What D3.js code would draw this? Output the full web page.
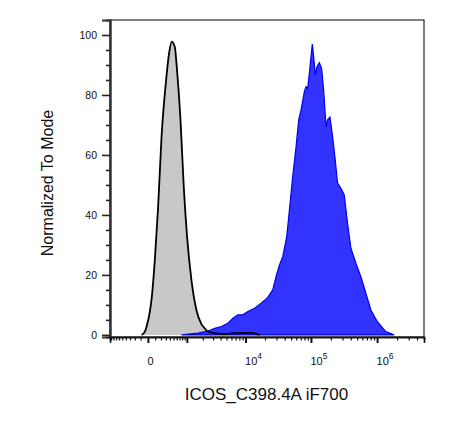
<!DOCTYPE html>
<html>
<head>
<meta charset="utf-8">
<script src="https://cdn.jsdelivr.net/npm/d3@7"></script>
<style>
  body { margin: 0; background: #fff; }
  text { font-family: "Liberation Sans", Arial, sans-serif; fill: #111; }
</style>
</head>
<body>
<div class="chart"></div>
<script>
// control (grey) histogram: intensity, normalized count
var greyX = [-85, -38, -16, 25, 48, 95, 149, 211, 301, 380, 451, 538, 612, 732, 862, 1009, 1232, 1530, 1886, 2158, 2460, 3192, 4657, 6730, 12270, 16470];
var greyY = [0, 1.1, 2.8, 7.8, 12, 25, 42.8, 66, 84, 94, 97.8, 96, 88, 71.7, 49.4, 32.8, 18.3, 8.3, 3.6, 2.2, 1.1, 0.6, 0.3, 0.6, 0.7, 0];

// stained (blue) histogram
var blueX = [770, 1638, 2460, 3192, 4118, 5262, 6325, 7588, 9087, 10867, 13794, 17500, 22080, 26310, 29960,
  33270, 37340, 42950, 47200, 52930, 59570, 65240, 70920, 79560, 84380, 89260, 94620, 100400, 105000,
  109900, 116500, 123600, 134000, 145100, 155700, 169200, 178700, 194200, 212600, 233400, 252900,
  284500, 318900, 357700, 402300, 478200, 569000, 676500, 804300, 1010000, 1351000, 1803000];
var blueY = [0, 0.6, 1.3, 2.2, 2.8, 3.9, 5.6, 6.7, 6.7, 7.8, 8.9, 10.6, 12.5, 15, 20,
  23.3, 26.1, 32.8, 41.7, 52.8, 62.8, 71.7, 75, 81.1, 82.8, 82.2, 87.2, 92.8, 97,
  92.8, 86.7, 89.4, 90.8, 88.9, 81.7, 69.4, 71.7, 72.6, 66.1, 58.3, 50.6,
  48.9, 46.7, 37.2, 28.9, 23.9, 19.4, 13.9, 8.3, 4.4, 1.1, 0];

// axis ticks
var xMajor = [0, 1e3, 1e4, 1e5, 1e6];
var xLabels = [{v: 0, base: "0", exp: ""}, {v: 1e4, base: "10", exp: "4"}, {v: 1e5, base: "10", exp: "5"}, {v: 1e6, base: "10", exp: "6"}];
var xMinor = [-900, -800, -700, -600, -500, -400, -300, -200, -100,
  100, 200, 300, 400, 500, 600, 700, 800, 900,
  2e3, 3e3, 4e3, 5e3, 6e3, 7e3, 8e3, 9e3,
  2e4, 3e4, 4e4, 5e4, 6e4, 7e4, 8e4, 9e4,
  2e5, 3e5, 4e5, 5e5, 6e5, 7e5, 8e5, 9e5,
  2e6, 3e6, 4e6];
var yMajor = [0, 20, 40, 60, 80, 100];
var yMinor = [5, 10, 15, 25, 30, 35, 45, 50, 55, 65, 70, 75, 85, 90, 95];

var W = 465, H = 422;
var margin = {top: 20, right: 41, bottom: 85, left: 110};
var iw = W - margin.left - margin.right,
  ih = H - margin.top - margin.bottom;

var svg = d3.select(".chart").append("svg")
  .attr("width", W)
  .attr("height", H);

var g = svg.append("g")
  .attr("transform", "translate(" + margin.left + "," + margin.top + ")");

var x = d3.scaleSymlog().constant(348)
  .domain([-950, 5.1e6])
  .range([0, iw]);

var y = d3.scaleLinear()
  .domain([-0.7, 105])
  .range([ih, 0]);

var grey = greyX.map(function(v, i) { return [v, greyY[i]]; });
var blue = blueX.map(function(v, i) { return [v, blueY[i]]; });

var area = d3.area()
  .x(function(d) { return x(d[0]); })
  .y0(y(0))
  .y1(function(d) { return y(d[1]); });

var line = d3.line()
  .x(function(d) { return x(d[0]); })
  .y(function(d) { return y(d[1]); });

// grey fill, then blue, then grey outline on top
g.append("path")
  .datum(grey)
  .attr("d", area.curve(d3.curveMonotoneX))
  .attr("fill", "#c8c8c8");

g.append("path")
  .datum(blue)
  .attr("d", area.curve(d3.curveLinear))
  .attr("fill", "#3333ff")
  .attr("stroke", "#0000ee")
  .attr("stroke-width", 1.2);

g.append("path")
  .datum(grey)
  .attr("d", line.curve(d3.curveMonotoneX))
  .attr("fill", "none")
  .attr("stroke", "#000")
  .attr("stroke-width", 1.8);

// frame
g.append("rect")
  .attr("x", 0).attr("y", 0)
  .attr("width", iw).attr("height", ih)
  .attr("fill", "none")
  .attr("stroke", "#000")
  .attr("stroke-width", 1);

// y axis
var yAxisMajor = g.append("g")
  .call(d3.axisLeft(y).tickValues(yMajor).tickSize(8).tickPadding(5).tickFormat(d3.format("d")));
var yAxisMinor = g.append("g")
  .call(d3.axisLeft(y).tickValues(yMinor).tickSize(4).tickFormat(""));

[yAxisMajor, yAxisMinor].forEach(function(a) {
  a.select(".domain").attr("stroke", "#333").attr("stroke-width", 2);
  a.selectAll(".tick line").attr("stroke", "#222").attr("stroke-width", 1.6);
});
yAxisMajor.selectAll(".tick text")
  .style("font-family", "Liberation Sans, Arial, sans-serif")
  .style("font-size", "10.5px")
  .attr("fill", "#111");

// x axis
var xg = g.append("g").attr("transform", "translate(0," + ih + ")");
var xAxisMajor = xg.append("g")
  .call(d3.axisBottom(x).tickValues(xMajor).tickSize(6).tickFormat(""));
var xAxisMinor = xg.append("g")
  .call(d3.axisBottom(x).tickValues(xMinor).tickSize(3.5).tickFormat(""));

[xAxisMajor, xAxisMinor].forEach(function(a) {
  a.select(".domain").attr("stroke", "#111").attr("stroke-width", 1.6);
  a.selectAll(".tick line").attr("stroke", "#111");
});
xAxisMajor.selectAll(".tick line").attr("stroke-width", 2);
xAxisMinor.selectAll(".tick line").attr("stroke-width", 1.2);

var lbl = xg.selectAll(".xlbl")
  .data(xLabels)
  .enter().append("text")
  .attr("class", "xlbl")
  .attr("x", function(d) { return x(d.v) - 0.5; })
  .attr("y", 28)
  .style("font-size", "11px");
lbl.append("tspan").text(function(d) { return d.base; });
lbl.append("tspan")
  .attr("dy", -6)
  .style("font-size", "8.5px")
  .text(function(d) { return d.exp; });

// axis titles
svg.append("text")
  .attr("x", margin.left + iw / 2 - 0.5)
  .attr("y", 400)
  .attr("text-anchor", "middle")
  .style("font-size", "17px")
  .attr("fill", "#222")
  .text("ICOS_C398.4A iF700");

svg.append("text")
  .attr("transform", "translate(53," + (margin.top + 163) + ") rotate(-90)")
  .attr("text-anchor", "middle")
  .style("font-size", "16px")
  .attr("fill", "#222")
  .text("Normalized To Mode");
</script>
</body>
</html>
